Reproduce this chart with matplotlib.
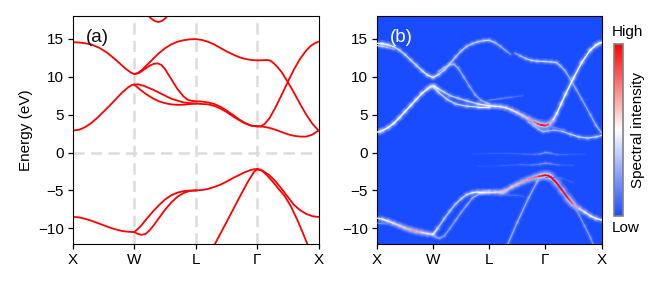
import numpy as np
import matplotlib
matplotlib.use("Agg")
import matplotlib.pyplot as plt
from matplotlib.collections import LineCollection
from matplotlib.colors import LinearSegmentedColormap, Normalize
from matplotlib.cm import ScalarMappable

plt.rcParams['font.family'] = ['Liberation Sans', 'DejaVu Sans']

tick_names = ['X', 'W', 'L', 'Γ', 'X']
tick_pos = [0, 1, 2, 3, 4]
yticks = [-10, -5, 0, 5, 10, 15]

# Panel (a) bands: k, E
a_top_k = [1.22, 1.27, 1.33, 1.39, 1.45, 1.50, 1.55]
a_top_e = [18.1, 17.7, 17.35, 17.2, 17.35, 17.65, 18.1]
a1_k = [0, .1, .2, .3, .43, .55, .7, .85, .95, 1, 1.05, 1.12, 1.2, 1.3, 1.4, 1.5, 1.6, 1.7, 1.8, 1.9, 2, 2.1, 2.2, 2.3, 2.4, 2.5, 2.6, 2.7, 2.8, 2.9, 3, 3.1, 3.17, 3.22, 3.28, 3.34, 3.4, 3.5, 3.6, 3.7, 3.8, 3.9, 4]
a1_e = [14.55, 14.5, 14.4, 14.25, 13.8, 13.2, 12.2, 11.1, 10.5, 10.35, 10.45, 10.85, 11.5, 12.3, 13.1, 13.75, 14.25, 14.6, 14.8, 14.92, 14.95, 14.85, 14.6, 14.25, 13.8, 13.35, 12.95, 12.6, 12.35, 12.2, 12.15, 12.17, 12.2, 12.1, 11.7, 11.2, 10.6, 9.3, 7.9, 6.4, 5.0, 3.8, 2.9]
a2_k = [1, 1.08, 1.16, 1.25, 1.32, 1.38, 1.44, 1.5, 1.6, 1.7, 1.8, 1.87, 1.93, 2, 2.1, 2.2, 2.3, 2.4, 2.5, 2.6, 2.7, 2.8, 2.9, 3]
a2_e = [10.35, 10.5, 10.95, 11.45, 11.7, 11.75, 11.55, 11.0, 9.7, 8.4, 7.4, 6.95, 6.82, 6.75, 6.72, 6.6, 6.4, 6.05, 5.55, 5.0, 4.4, 3.9, 3.55, 3.45]
a3_k = [0, .1, .2, .3, .4, .5, .6, .7, .8, .9, .96, 1, 1.06, 1.15, 1.3, 1.45, 1.6, 1.8, 2, 2.2, 2.3, 2.4, 2.5, 2.6, 2.7, 2.8, 2.9, 3, 3.1, 3.2, 3.3, 3.4, 3.5, 3.6, 3.7, 3.8, 3.9, 4]
a3_e = [2.9, 3.0, 3.35, 3.9, 4.6, 5.4, 6.2, 7.05, 7.9, 8.6, 8.9, 8.95, 9.0, 8.8, 8.3, 7.7, 7.1, 6.6, 6.45, 6.35, 6.15, 5.8, 5.35, 4.8, 4.3, 3.85, 3.55, 3.45, 3.4, 3.25, 3.0, 2.7, 2.4, 2.2, 2.1, 2.1, 2.35, 2.9]
a4_k = [1, 1.1, 1.2, 1.3, 1.4, 1.5, 1.6, 1.7, 1.8, 1.9, 2]
a4_e = [8.95, 8.25, 7.65, 7.15, 6.75, 6.5, 6.35, 6.28, 6.3, 6.38, 6.45]
a5_k = [3, 3.06, 3.12, 3.2, 3.3, 3.4, 3.5, 3.6, 3.7, 3.8, 3.88, 3.95, 4]
a5_e = [3.45, 3.45, 3.75, 4.5, 5.95, 7.6, 9.3, 10.95, 12.35, 13.45, 14.1, 14.45, 14.6]
a6_k = [0, .1, .2, .3, .4, .5, .6, .7, .8, .9, 1, 1.1, 1.2, 1.3, 1.4, 1.5, 1.6, 1.7, 1.8, 1.9, 2]
a6_e = [-8.5, -8.55, -8.75, -9.0, -9.3, -9.6, -9.9, -10.15, -10.35, -10.45, -10.5, -9.75, -8.75, -7.8, -6.95, -6.2, -5.65, -5.3, -5.1, -5.02, -5.0]
a7_k = [1, 1.06, 1.12, 1.18, 1.25, 1.32, 1.4, 1.5, 1.6, 1.7, 1.8, 1.9, 2]
a7_e = [-10.5, -10.75, -10.85, -10.75, -10.25, -9.55, -8.65, -7.55, -6.6, -5.85, -5.35, -5.08, -5.0]
a8_k = [2, 2.1, 2.2, 2.3, 2.4, 2.5, 2.6, 2.7, 2.8, 2.9, 2.96, 3, 3.05, 3.1, 3.2, 3.3, 3.4, 3.5, 3.6, 3.7, 3.8, 3.9, 4]
a8_e = [-5, -4.95, -4.8, -4.55, -4.25, -3.85, -3.4, -3.0, -2.6, -2.3, -2.2, -2.2, -2.25, -2.45, -3.0, -3.8, -4.8, -5.85, -6.9, -7.6, -8.1, -8.4, -8.5]
a9_k = [3, 3.08, 3.16, 3.25, 3.35, 3.45, 3.55, 3.65, 3.75, 3.82]
a9_e = [-2.2, -2.4, -3.0, -3.8, -4.8, -5.75, -7.1, -8.8, -10.7, -12.1]
a10_k = [2.31, 2.5, 2.7, 2.85, 2.95, 3]
a10_e = [-12.1, -9.2, -6.1, -3.85, -2.55, -2.2]

bands_a = [(a_top_k, a_top_e), (a1_k, a1_e), (a2_k, a2_e), (a3_k, a3_e), (a4_k, a4_e),
           (a5_k, a5_e), (a6_k, a6_e), (a7_k, a7_e), (a8_k, a8_e), (a9_k, a9_e), (a10_k, a10_e)]

# Panel (b) ridges: k, E, intensity (0 to 1)
b1_k = [0, .1, .2, .3, .4, .5, .6, .7, .8, .9, 1, 1.1, 1.2, 1.3, 1.4, 1.5, 1.6, 1.7, 1.8, 1.9, 2, 2.1, 2.2, 2.3, 2.38]
b1_e = [14.4, 14.35, 14.2, 13.95, 13.5, 12.9, 12.2, 11.5, 10.8, 10.2, 9.9, 10.3, 10.9, 11.7, 12.6, 13.4, 14.0, 14.35, 14.6, 14.75, 14.8, 14.5, 14.0, 13.4, 12.95]
b1_i = [.5, .5, .47, .42, .4, .38, .4, .42, .42, .45, .5, .42, .38, .38, .36, .36, .38, .36, .36, .38, .4, .33, .3, .28, .18]
b1b_k = [2.46, 2.55, 2.65, 2.75, 2.85, 3, 3.1, 3.2, 3.27, 3.35, 3.45, 3.55, 3.65, 3.8, 3.9, 4]
b1b_e = [13.1, 12.75, 12.4, 12.15, 12.05, 12.0, 11.95, 11.85, 11.4, 10.8, 9.6, 8.3, 7.0, 5.0, 3.6, 2.6]
b1b_i = [.2, .33, .35, .38, .38, .38, .38, .38, .33, .3, .3, .28, .25, .28, .3, .32]
b1c_k = [0, .1, .2, .3]
b1c_e = [14.1, 14.0, 13.85, 13.6]
b1c_i = [.4, .38, .32, .2]
b2_k = [1.1, 1.2, 1.3, 1.37, 1.45, 1.55, 1.65, 1.75, 1.85, 1.95, 2]
b2_e = [10.7, 11.2, 11.6, 11.65, 11.1, 9.9, 8.7, 7.6, 6.9, 6.55, 6.4]
b2_i = [.3, .32, .32, .32, .3, .28, .26, .26, .28, .32, .35]
b3_k = [0, .05, .1, .2, .3, .4, .5, .6, .7, .8, .9, .96, 1.02, 1.1, 1.2, 1.3, 1.45, 1.6, 1.8, 2, 2.1, 2.2, 2.3, 2.4, 2.5, 2.6, 2.7, 2.8, 2.86, 2.92, 3, 3.07, 3.14, 3.2, 3.28, 3.36, 3.5, 3.65, 3.8, 3.9, 3.96, 4]
b3_e = [2.7, 2.75, 2.9, 3.3, 3.85, 4.6, 5.4, 6.2, 7.0, 7.8, 8.4, 8.7, 8.75, 8.35, 7.95, 7.5, 7.15, 6.8, 6.4, 6.15, 6.1, 6.05, 5.9, 5.6, 5.25, 4.85, 4.45, 4.05, 3.8, 3.65, 3.55, 3.75, 4.3, 5.1, 6.4, 7.7, 9.8, 11.9, 13.5, 14.15, 14.4, 14.5]
b3_i = [.5, .52, .52, .5, .5, .52, .52, .5, .5, .5, .52, .55, .55, .42, .38, .36, .36, .38, .42, .5, .54, .56, .54, .55, .58, .6, .66, .75, .85, .95, 1.0, .78, .55, .5, .5, .5, .5, .5, .5, .5, .5, .52]
b4_k = [1, 1.1, 1.25, 1.4, 1.6, 1.8, 2]
b4_e = [8.7, 7.9, 7.0, 6.4, 6.1, 6.0, 6.0]
b4_i = [.45, .38, .38, .38, .38, .42, .5]
b5_k = [2.7, 2.8, 2.88, 2.96, 3.05, 3.15, 3.3, 3.45, 3.6, 3.75, 3.9, 4]
b5_e = [4.0, 3.5, 3.05, 2.75, 2.85, 2.95, 2.8, 2.4, 2.05, 1.9, 2.05, 2.25]
b5_i = [.28, .3, .3, .35, .3, .28, .32, .38, .38, .36, .38, .4]
b6_k = [1.7, 2.0, 2.3, 2.6, 2.8, 2.9, 3, 3.1, 3.22, 3.4, 3.7]
b6_e = [-.2, -.15, -.1, -.2, -.25, -.2, 0, -.1, -.3, -.25, -.2]
b6_i = [.03, .05, .06, .08, .12, .16, .24, .18, .12, .08, .03]
b7_k = [1.8, 2.2, 2.55, 2.75, 2.9, 3, 3.1, 3.25, 3.5]
b7_e = [-1.8, -1.75, -1.6, -1.65, -1.55, -1.4, -1.5, -1.65, -1.7]
b7_i = [.03, .05, .09, .13, .18, .24, .18, .1, .03]
b8_k = [0, .1, .2, .3, .4, .5, .6, .7, .8, .9, 1, 1.08, 1.2, 1.3, 1.4, 1.5, 1.6, 1.7, 1.8, 1.9, 2, 2.1, 2.2, 2.25, 2.3, 2.4, 2.5, 2.6, 2.7, 2.8, 2.88, 2.95, 3, 3.05, 3.1, 3.2, 3.3, 3.4, 3.45, 3.5, 3.6, 3.7, 3.8, 3.9, 4]
b8_e = [-8.65, -8.8, -9.05, -9.35, -9.65, -9.95, -10.2, -10.4, -10.55, -10.7, -10.8, -10.0, -8.7, -7.7, -6.8, -6.1, -5.55, -5.3, -5.2, -5.2, -5.2, -5.2, -5.25, -5.2, -5.0, -4.55, -4.2, -3.85, -3.55, -3.3, -3.15, -3.05, -3.0, -3.05, -3.25, -4.0, -5.0, -6.0, -6.45, -6.85, -7.4, -7.85, -8.35, -8.7, -8.9]
b8_i = [.45, .48, .55, .58, .6, .62, .7, .72, .62, .55, .55, .38, .36, .36, .36, .38, .42, .45, .48, .55, .58, .58, .62, .65, .65, .62, .65, .7, .72, .78, .85, .98, 1.0, 1.0, 1.0, 1.0, .98, .95, .9, .78, .62, .55, .5, .5, .5]
b9_k = [1, 1.06, 1.12, 1.2, 1.3, 1.4, 1.5, 1.6, 1.7, 1.85, 2]
b9_e = [-10.85, -11.2, -11.3, -11.0, -10.0, -8.95, -7.9, -6.95, -6.0, -5.35, -5.2]
b9_i = [.3, .25, .25, .24, .24, .26, .26, .26, .28, .32, .4]
b10_k = [2.33, 2.5, 2.7, 2.85, 2.92]
b10_e = [-12.1, -9.2, -6.0, -3.9, -3.1]
b10_i = [.28, .3, .3, .3, .3]
b11_k = [3.45, 3.6, 3.7, 3.8, 3.85]
b11_e = [-6.5, -8.2, -9.7, -11.2, -12.1]
b11_i = [.22, .22, .24, .24, .22]
b12_k = [0, .08, .16, .25]
b12_e = [-9.3, -9.35, -9.4, -9.6]
b12_i = [.22, .2, .16, .08]
b13_k = [2.0, 2.2, 2.4, 2.6]
b13_e = [6.9, 7.1, 7.3, 7.5]
b13_i = [.16, .18, .14, .05]
b14_k = [2.2, 2.35, 2.5, 2.62]
b14_e = [-5.6, -5.6, -5.65, -5.8]
b14_i = [.06, .12, .12, .05]
b15_k = [3.0, 3.15, 3.3, 3.5]
b15_e = [-3.2, -3.2, -3.4, -4.0]
b15_i = [.12, .14, .1, .04]
b16_k = [3.05, 3.2, 3.35]
b16_e = [3.5, 3.2, 3.0]
b16_i = [.18, .2, .1]

ridges_b = [(b6_k, b6_e, b6_i), (b7_k, b7_e, b7_i), (b12_k, b12_e, b12_i), (b13_k, b13_e, b13_i),
            (b14_k, b14_e, b14_i), (b15_k, b15_e, b15_i), (b16_k, b16_e, b16_i), (b1c_k, b1c_e, b1c_i),
            (b11_k, b11_e, b11_i), (b10_k, b10_e, b10_i), (b9_k, b9_e, b9_i), (b2_k, b2_e, b2_i),
            (b4_k, b4_e, b4_i), (b5_k, b5_e, b5_i), (b1_k, b1_e, b1_i), (b1b_k, b1b_e, b1b_i),
            (b3_k, b3_e, b3_i), (b8_k, b8_e, b8_i)]

W, H = 664, 285
fig = plt.figure(figsize=(W / 100, H / 100), dpi=100)

def box(x0, y0, x1, y1):
    return [x0 / W, 1 - y1 / H, (x1 - x0) / W, (y1 - y0) / H]

FS = 11
cmap = LinearSegmentedColormap.from_list('spec', ['#1a4cff', '#ffffff', '#ff0000'])
norm = Normalize(0, 1)
dash = (0, (4.5, 2.5))

# Panel (a)
ax = fig.add_axes(box(73, 16, 318.5, 243.5))
for p in tick_pos[1:4]:
    ax.axvline(p, color='#dcdcdc', lw=1.8, ls=dash, zorder=1)
ax.axhline(0, color='#dcdcdc', lw=1.8, ls=dash, zorder=1)
for k, e in bands_a:
    ax.plot(k, e, color='#ff0000', lw=1.3, zorder=2, solid_joinstyle='round')
ax.set_xlim(0, 4)
ax.set_ylim(-12, 18)
ax.set_xticks(tick_pos, tick_names)
ax.set_yticks(yticks, [str(v).replace('-', '−') for v in yticks])
ax.tick_params(labelsize=FS, length=3.5, width=0.9, pad=3)
ax.set_ylabel('Energy (eV)', fontsize=FS, labelpad=4)
ax.text(0.21, 15.1, '(a)', fontsize=FS + 2.5, va='center', ha='left', color='#111111')

# Panel (b)
bx = fig.add_axes(box(377, 16, 601.5, 243.5))
bx.set_facecolor(cmap(0.0))
for k, e, i in ridges_b:
    pts = np.column_stack([k, e])
    segs = np.stack([pts[:-1], pts[1:]], axis=1)
    vals = (np.asarray(i[:-1]) + np.asarray(i[1:])) / 2
    halo = np.clip(vals, 0, .5)
    for width, alpha in [(6.0, .07), (4.2, .11), (2.6, .2)]:
        bx.add_collection(LineCollection(segs, colors=cmap(norm(halo)),
                                         linewidths=width * (0.45 + vals),
                                         alpha=alpha, capstyle='round', zorder=2))
    bx.add_collection(LineCollection(segs, array=vals, cmap=cmap, norm=norm,
                                     linewidths=0.6 + 0.7 * vals,
                                     capstyle='round', zorder=3))
bx.set_xlim(0, 4)
bx.set_ylim(-12, 18)
bx.set_xticks(tick_pos, tick_names)
bx.set_yticks(yticks, [str(v).replace('-', '−') for v in yticks])
bx.tick_params(labelsize=FS, length=3.5, width=0.9, pad=3)
bx.text(0.23, 15.1, '(b)', fontsize=FS + 2.5, va='center', ha='left', color='white')

# Colorbar
cax = fig.add_axes(box(614, 44, 623, 216))
cb = fig.colorbar(ScalarMappable(norm=norm, cmap=cmap), cax=cax)
cb.set_ticks([])
cb.outline.set_edgecolor('#808080')
cb.outline.set_linewidth(1.2)
fig.text(627 / W, 1 - 32 / H, 'High', fontsize=FS, ha='center', va='center')
fig.text(625.5 / W, 1 - 228 / H, 'Low', fontsize=FS, ha='center', va='center')
fig.text(638 / W, 1 - 130 / H, 'Spectral intensity', fontsize=FS, rotation=90, ha='center', va='center')

fig.savefig('out.png', dpi=100)
